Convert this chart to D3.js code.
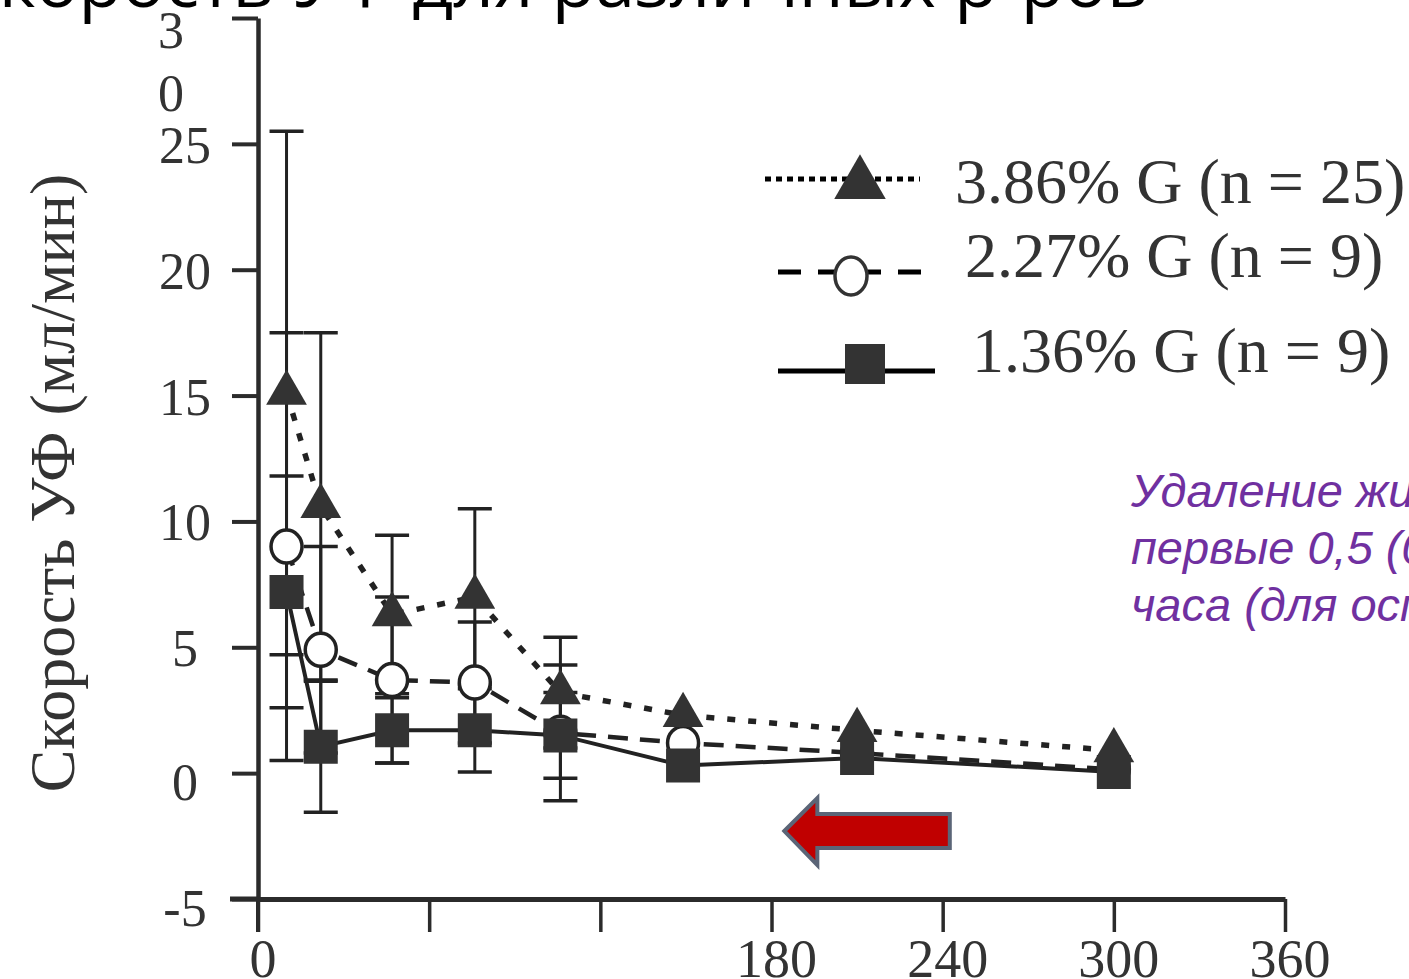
<!DOCTYPE html>
<html>
<head>
<meta charset="utf-8">
<script src="https://cdn.jsdelivr.net/npm/d3@7"></script>
<style>
  html, body { margin: 0; padding: 0; background: #ffffff; overflow: hidden; }
  svg { display: block; }
</style>
</head>
<body>
<svg id="chart" width="1409" height="979"></svg>
<script>
// ---- Data ----
const timesMin = [10, 22, 47, 76, 106, 149, 210, 300];
const g386 = [15.1, 10.6, 6.3, 7.0, 3.2, 2.3, 1.7, 0.9];
const g386sd = [10.4, 6.9, 3.15, 3.5, 2.2, 0, 0, 0];
const g227 = [9.0, 4.9, 3.7, 3.6, 1.6, 1.2, 0.8, 0.15];
const g227sd = [8.5, 4.1, 3.3, 2.4, 2.7, 0, 0, 0];
const g136 = [7.2, 1.05, 1.7, 1.7, 1.5, 0.3, 0.6, 0.05];
const g136sd = [4.6, 2.6, 1.3, 1.65, 1.7, 0, 0, 0];

const seriesNames = ["3.86% G (n = 25)", "2.27% G (n = 9)", "1.36% G (n = 9)"];
const xTickValues = [0, 60, 120, 180, 240, 300, 360];
const xTickLabels = ["0", "", "", "180", "240", "300", "360"];
const yTickValues = [30, 25, 20, 15, 10, 5, 0, -5];
const yTickLabels = ["3\n0", "25", "20", "15", "10", "5", "0", "-5"];

const titleText = "Скорость УФ для различных р-ров";
const yAxisTitle = "Скорость УФ (мл/мин)";
const noteLines = ["Удаление жидкости за", "первые 0,5 (0,75)", "часа (для осмотических"];
// annotation arrow in data units: tip x, tail x, centre y
const arrowTip = [184.5, -2.3];
const arrowTail = [242.5, -2.3];

// ---- Setup ----
const svg = d3.select("#chart");
const ink = "#2b2b2b";
const x = d3.scaleLinear().domain([0, 360]).range([258, 1285]);
const y = d3.scaleLinear().domain([-5, 30]).range([899, 18]);

// title (cut off at the top of the frame)
svg.append("text")
  .attr("x", -46).attr("y", 7)
  .attr("font-family", "'Open Sans', sans-serif")
  .attr("font-size", 70)
  .attr("textLength", 1194).attr("lengthAdjust", "spacingAndGlyphs")
  .attr("fill", "#000")
  .text(titleText);

// ---- Axes ----
const yAxis = d3.axisLeft(y).tickValues(yTickValues).tickSize(26).tickSizeOuter(0).tickFormat("");
const gy = svg.append("g").attr("transform", `translate(${x(0)},0)`).call(yAxis);
gy.select(".domain").attr("stroke", ink).attr("stroke-width", 4.5);
gy.selectAll(".tick line").attr("stroke", ink).attr("stroke-width", 4);

// y axis continues slightly under the x axis
svg.append("line").attr("x1", x(0)).attr("x2", x(0)).attr("y1", y(-5)).attr("y2", y(-5) + 33)
  .attr("stroke", ink).attr("stroke-width", 4);

const xAxis = d3.axisBottom(x).tickValues(xTickValues).tickSize(33).tickSizeOuter(0).tickFormat("");
const gx = svg.append("g").attr("transform", `translate(0,${y(-5)})`).call(xAxis);
gx.select(".domain").attr("stroke", ink).attr("stroke-width", 5);
gx.selectAll(".tick line").attr("stroke", ink).attr("stroke-width", 3.5);
svg.append("line").attr("x1", x(0) - 28).attr("x2", x(0)).attr("y1", y(-5)).attr("y2", y(-5))
  .attr("stroke", ink).attr("stroke-width", 5);

// y tick labels
const serif = "'Liberation Serif', 'Times New Roman', serif";
yTickValues.forEach((v, i) => {
  const parts = yTickLabels[i].split("\n");
  if (parts.length > 1) {
    parts.forEach((p, j) => {
      svg.append("text").attr("x", 171).attr("y", y(v) + 30 + j * 63)
        .attr("text-anchor", "middle").attr("font-family", serif).attr("font-size", 52)
        .attr("fill", "#333").text(p);
    });
  } else {
    svg.append("text").attr("x", 185).attr("y", y(v) + 19 + (v <= 0 ? 8 : 0))
      .attr("text-anchor", "middle").attr("font-family", serif).attr("font-size", 52)
      .attr("fill", "#333").text(parts[0]);
  }
});

// x tick labels
xTickValues.forEach((v, i) => {
  if (!xTickLabels[i]) return;
  svg.append("text").attr("x", x(v) + 5).attr("y", 977)
    .attr("text-anchor", "middle").attr("font-family", serif).attr("font-size", 54)
    .attr("fill", "#333").text(xTickLabels[i]);
});

// y axis title
svg.append("text")
  .attr("transform", `translate(74,${483}) rotate(-90)`)
  .attr("text-anchor", "middle").attr("font-family", serif).attr("font-size", 64)
  .attr("fill", "#333").text(yAxisTitle);

// ---- Series ----
const series = [
  { vals: g386, sd: g386sd, dash: "8,13", width: 5.5, marker: "tri" },
  { vals: g227, sd: g227sd, dash: "20,12", width: 4.5, marker: "circ" },
  { vals: g136, sd: g136sd, dash: null, width: 4, marker: "sq" }
];

const line = d3.line().x(d => x(d[0])).y(d => y(d[1]));
series.forEach(s => {
  const pts = timesMin.map((t, i) => [t, s.vals[i]]);
  const p = svg.append("path").datum(pts).attr("d", line)
    .attr("fill", "none").attr("stroke", "#222").attr("stroke-width", s.width);
  if (s.dash) p.attr("stroke-dasharray", s.dash);
});

// error bars
series.forEach(s => {
  timesMin.forEach((t, i) => {
    const sd = s.sd[i];
    if (!sd) return;
    const cx = x(t), lo = y(s.vals[i] - sd), hi = y(s.vals[i] + sd);
    svg.append("line").attr("x1", cx).attr("x2", cx).attr("y1", hi).attr("y2", lo)
      .attr("stroke", "#222").attr("stroke-width", 3);
    [hi, lo].forEach(yy => {
      svg.append("line").attr("x1", cx - 17).attr("x2", cx + 17).attr("y1", yy).attr("y2", yy)
        .attr("stroke", "#222").attr("stroke-width", 3.5);
    });
  });
});

// markers: circles, then triangles, then squares
const triSym = d3.symbol().type(d3.symbolTriangle).size(720);
const sqSym = d3.symbol().type(d3.symbolSquare).size(1156);
const markerOf = {
  circ: (g, cx, cy) => g.append("ellipse").attr("cx", cx).attr("cy", cy).attr("rx", 15.5).attr("ry", 16.5)
    .attr("fill", "#fff").attr("stroke", "#222").attr("stroke-width", 3.5),
  tri: (g, cx, cy) => g.append("path").attr("d", triSym()).attr("transform", `translate(${cx},${cy})`)
    .attr("fill", "#333"),
  sq: (g, cx, cy) => g.append("path").attr("d", sqSym()).attr("transform", `translate(${cx},${cy})`)
    .attr("fill", "#333")
};
[1, 0, 2].forEach(k => {
  const s = series[k];
  const g = svg.append("g");
  timesMin.forEach((t, i) => markerOf[s.marker](g, x(t), y(s.vals[i])));
});

// ---- Legend ----
const legRows = [
  { x1: 765, x2: 920, ly: 179, mx: 860, my: 184, tx: 955, ty: 203 },
  { x1: 778, x2: 925, ly: 272, mx: 851, my: 276, tx: 965, ty: 277 },
  { x1: 778, x2: 935, ly: 371, mx: 865, my: 364, tx: 972, ty: 372 }
];
const legDash = ["6,5", "23,17", null];
const legTri = d3.symbol().type(d3.symbolTriangle).size(1150);
const legSq = d3.symbol().type(d3.symbolSquare).size(1600);
legRows.forEach((r, k) => {
  const l = svg.append("line").attr("x1", r.x1).attr("x2", r.x2).attr("y1", r.ly).attr("y2", r.ly)
    .attr("stroke", "#000").attr("stroke-width", 5);
  if (legDash[k]) l.attr("stroke-dasharray", legDash[k]);
  if (k === 0) svg.append("path").attr("d", legTri()).attr("transform", `translate(${r.mx},${r.my})`).attr("fill", "#333");
  if (k === 1) svg.append("ellipse").attr("cx", r.mx).attr("cy", r.my).attr("rx", 16).attr("ry", 19)
    .attr("fill", "#fff").attr("stroke", "#333").attr("stroke-width", 3.5);
  if (k === 2) svg.append("path").attr("d", legSq()).attr("transform", `translate(${r.mx},${r.my})`).attr("fill", "#333");
  svg.append("text").attr("x", r.tx).attr("y", r.ty)
    .attr("font-family", serif).attr("font-size", 64).attr("fill", "#333").text(seriesNames[k]);
});

// ---- Purple note ----
noteLines.forEach((t, i) => {
  svg.append("text").attr("x", 1131).attr("y", 507 + i * 57)
    .attr("font-family", "'Liberation Sans', Arial, sans-serif").attr("font-style", "italic")
    .attr("font-size", 47).attr("fill", "#7030A0").text(t);
});

// ---- Red arrow ----
const tipX = x(arrowTip[0]), tailX = x(arrowTail[0]), cy = y(arrowTip[1]);
const headX = tipX + 33;
const arrowPts = [
  [tipX, cy], [headX, cy - 33], [headX, cy - 17], [tailX, cy - 17],
  [tailX, cy + 17], [headX, cy + 17], [headX, cy + 34]
];
svg.append("path").attr("d", d3.line()(arrowPts) + "Z")
  .attr("fill", "#c00000").attr("stroke", "#5b6577").attr("stroke-width", 4).attr("stroke-linejoin", "miter");
</script>
</body>
</html>
